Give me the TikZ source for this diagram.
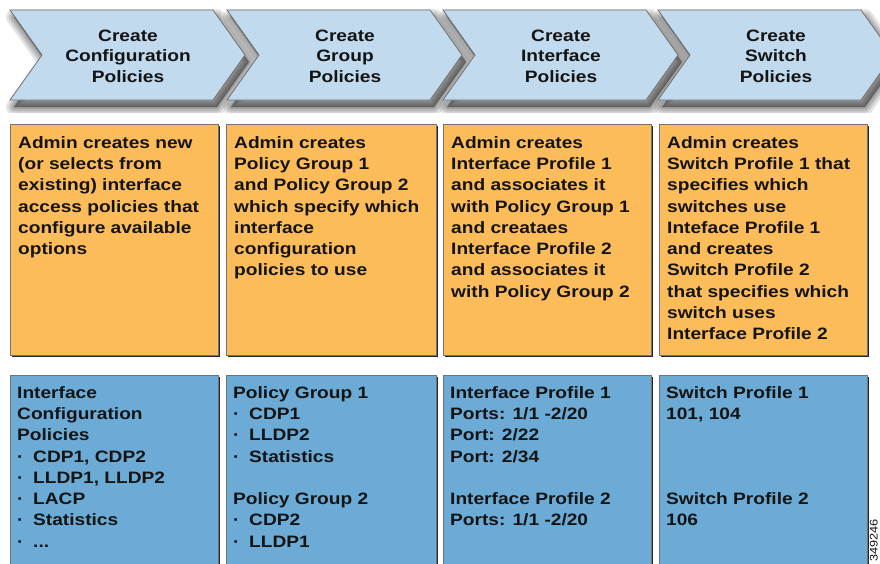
\documentclass[tikz,border=0pt]{standalone}
\usepackage{fontspec}
\setmainfont[FakeStretch=1.16,BoldFont={Liberation Sans Bold}]{Liberation Sans}
\definecolor{chev}{RGB}{193,218,238}
\definecolor{org}{RGB}{253,188,90}
\definecolor{blu}{RGB}{108,171,214}
\definecolor{edge}{RGB}{115,115,115}
\definecolor{ink}{RGB}{20,20,20}
\tikzset{
  chevron/.style={fill=chev,draw=edge,line width=0.8pt},
  chevshadow/.style={fill=black,draw=black,opacity=0.11,line join=round},
  chevtext/.style={text=ink,align=center,font=\fontsize{16.5}{20.5}\selectfont\bfseries,inner sep=0pt},
  boxtext/.style={text=ink,align=left,anchor=north west,inner sep=0pt,
    font=\fontsize{16.5}{21.3}\selectfont\bfseries},
  shad/.style={fill=black!85},
}
\newcommand{\bul}{\makebox[16pt][l]{·}}
\begin{document}
\begin{tikzpicture}[x=1pt,y=-1pt]
\useasboundingbox (0,0) rectangle (880,563);
\fill[white] (0,0) rectangle (880,563);
% chevron shadows
\foreach \xo in {10,227,443,658}{
  \foreach \w in {16,11,7,3}{
    \path[chevshadow,line width=\w pt] (\xo+4,17) -- ++(203,0) -- ++(32,45) -- ++(-32,45) -- ++(-203,0) -- ++(32,-45) -- cycle;
  }
}
% chevrons
\foreach \xo/\nm/\txt in {10/c1/{Create\\Configuration\\Policies},
                          227/c2/{Create\\Group\\Policies},
                          443/c3/{Create\\Interface\\Policies},
                          658/c4/{Create\\Switch\\Policies}}{
  \draw[chevron] (\xo,10) -- ++(203,0) -- ++(32,45) -- ++(-32,45) -- ++(-203,0) -- ++(32,-45) -- cycle;
  \node[chevtext] (\nm) at (\xo+118,56) {\txt};
}
% boxes
\fill[white] (0,113) rectangle (880,122);
\foreach \xl/\xr in {10/218,226/436,443/651,659/867}{
  \fill[shad] (\xl+2,126) rectangle (\xr+2,357);
  \filldraw[fill=org,draw=edge,line width=0.6pt] (\xl,124) rectangle (\xr,355);
  \fill[shad] (\xl+2,377) rectangle (\xr+2,570);
  \filldraw[fill=blu,draw=edge,line width=0.6pt] (\xl,375) rectangle (\xr,570);
}
% orange texts
\node[boxtext] (o1) at (18,136) {Admin creates new\\(or selects from\\existing) interface\\access policies that\\configure available\\options};
\node[boxtext] (o2) at (234,136) {Admin creates\\Policy Group 1\\and Policy Group 2\\which specify which\\interface\\configuration\\policies to use};
\node[boxtext] (o3) at (451,136) {Admin creates\\Interface Profile 1\\and associates it\\with Policy Group 1\\and creataes\\Interface Profile 2\\and associates it\\with Policy Group 2};
\node[boxtext] (o4) at (667,136) {Admin creates\\Switch Profile 1 that\\specifies which\\switches use\\Inteface Profile 1\\and creates\\Switch Profile 2\\that specifies which\\switch uses\\Interface Profile 2};
% blue texts
\node[boxtext] (b1) at (17,386) {Interface\\Configuration\\Policies\\\bul CDP1, CDP2\\\bul LLDP1, LLDP2\\\bul LACP\\\bul Statistics\\\bul ...};
\node[boxtext] (b2) at (233,386) {Policy Group 1\\\bul CDP1\\\bul LLDP2\\\bul Statistics\\[21.3pt]Policy Group 2\\\bul CDP2\\\bul LLDP1};
\node[boxtext] (b3) at (450,386) {Interface Profile 1\\Ports: 1/1 -2/20\\Port: 2/22\\Port: 2/34\\[21.3pt]Interface Profile 2\\Ports: 1/1 -2/20};
\node[boxtext] (b4) at (666,386) {Switch Profile 1\\101, 104\\[63.9pt]Switch Profile 2\\106};
% code
\node[rotate=90,anchor=south east,inner sep=0pt,text=ink,font=\fontsize{11}{11}\selectfont] (code) at (878,519) {349246};
\end{tikzpicture}
\end{document}
